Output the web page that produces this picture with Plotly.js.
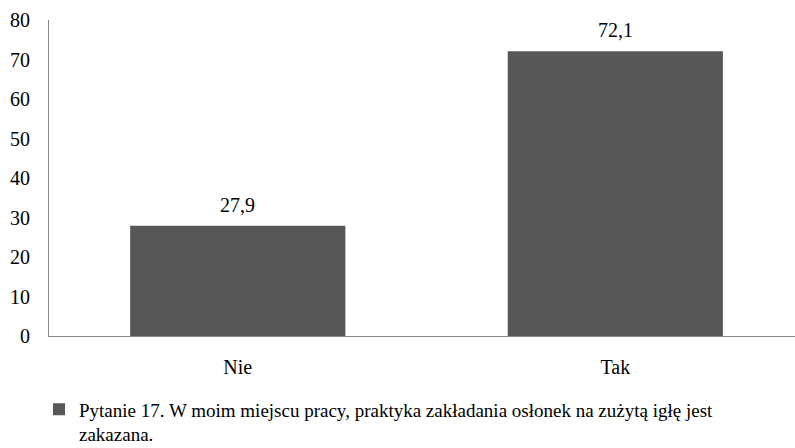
<!DOCTYPE html>
<html>
<head>
<meta charset="utf-8">
<script src="https://cdn.plot.ly/plotly-3.0.1.min.js"></script>
<style>html,body{margin:0;padding:0;background:#fff;}#chart{width:795px;height:448px;}</style>
</head>
<body>
<div id="chart"></div>
<script>
const categories = ["Nie", "Tak"];
const values = [27.9, 72.1];
const valueLabels = ["27,9", "72,1"];
const seriesName = "Pytanie 17. W moim miejscu pracy, praktyka zakładania osłonek na zużytą igłę jest<br>zakazana.";
const yTicks = [0, 10, 20, 30, 40, 50, 60, 70, 80];

const fontFam = 'Liberation Serif, Times New Roman, serif';

const trace = {
  type: 'bar',
  x: categories,
  y: values,
  name: seriesName,
  marker: {color: '#575757', line: {width: 0}},
  hoverinfo: 'none',
  showlegend: true
};

const annotations = categories.map((c, i) => ({
  x: c, y: values[i], xref: 'x', yref: 'y',
  text: valueLabels[i], showarrow: false,
  yanchor: 'bottom', yshift: 8,
  font: {family: fontFam, size: 20, color: '#000'}
}));

const layout = {
  width: 795, height: 448,
  margin: {l: 49, r: 0, t: 20, b: 112, autoexpand: false},
  paper_bgcolor: '#fff', plot_bgcolor: '#fff',
  font: {family: fontFam, size: 20, color: '#000'},
  separators: ',.',
  bargap: 0.43,
  showlegend: true,
  annotations: annotations,
  xaxis: {
    type: 'category',
    range: [-0.5, 1.476],
    showline: true, linecolor: '#888', linewidth: 1,
    ticks: '', showgrid: false, zeroline: false,
    ticklabelstandoff: 13,
    tickfont: {family: fontFam, size: 20, color: '#000'}
  },
  yaxis: {
    range: [0, 80],
    tickvals: yTicks,
    ticktext: yTicks.map(String),
    showline: true, linecolor: '#888', linewidth: 1,
    ticks: '', showgrid: false, zeroline: false,
    ticklabelstandoff: 14,
    tickfont: {family: fontFam, size: 20, color: '#000'}
  },
  legend: {
    x: -0.0134, y: -0.172, xanchor: 'left', yanchor: 'top',
    valign: 'top',
    itemwidth: 30,
    tracegroupgap: 0,
    font: {family: fontFam, size: 19, color: '#000'},
    bgcolor: 'rgba(0,0,0,0)'
  }
};

Plotly.newPlot('chart', [trace], layout, {displayModeBar: false, staticPlot: true});
</script>
</body>
</html>
